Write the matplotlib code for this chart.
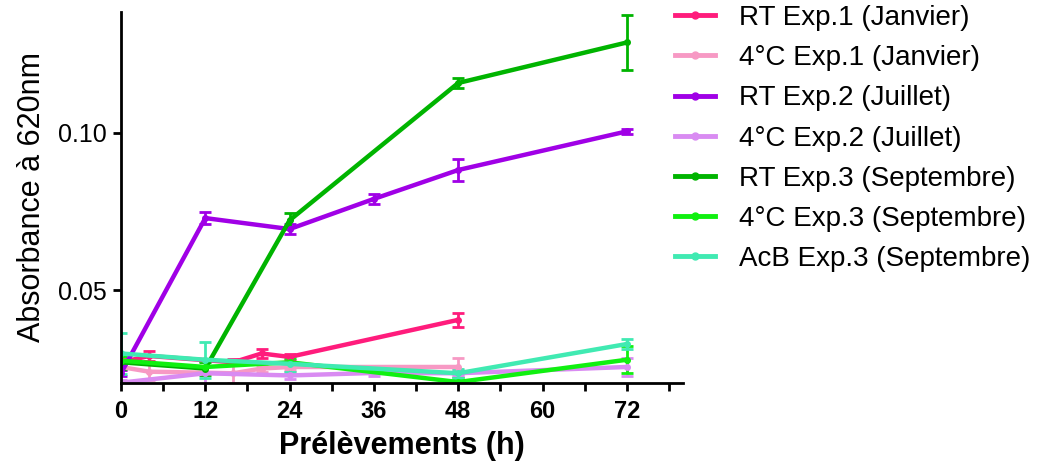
import numpy as np
import matplotlib
matplotlib.use("Agg")
import matplotlib.pyplot as plt
from matplotlib.ticker import MultipleLocator, FormatStrFormatter
from matplotlib.lines import Line2D

plt.rcParams['font.family'] = ['Liberation Sans', 'DejaVu Sans']

# Data
t_exp1 = [0, 4, 16, 20, 24, 48]
t_exp2 = [0, 12, 24, 36, 48, 72]
t_exp3 = [0, 12, 24, 48, 72]

rt_exp1 = [0.027, 0.029, 0.027, 0.0298, 0.0287, 0.0405]
rt_exp1_err = [0.001, 0.0015, 0.001, 0.0015, 0.001, 0.0022]
c4_exp1 = [0.0255, 0.024, 0.0235, 0.025, 0.0255, 0.0255]
c4_exp1_err = [0.001, 0.0025, 0.003, 0.001, 0.001, 0.003]

rt_exp2 = [0.0235, 0.0729, 0.0694, 0.079, 0.0882, 0.1005]
rt_exp2_err = [0.001, 0.0018, 0.0015, 0.0015, 0.0035, 0.0008]
c4_exp2 = [0.0205, 0.0235, 0.0228, 0.0236, 0.0235, 0.0255]
c4_exp2_err = [0.001, 0.004, 0.001, 0.001, 0.001, 0.003]

rt_exp3 = [0.027, 0.025, 0.0722, 0.1159, 0.1288]
rt_exp3_err = [0.002, 0.002, 0.0022, 0.0015, 0.0089]
c4_exp3 = [0.0275, 0.0255, 0.027, 0.0207, 0.0278]
c4_exp3_err = [0.0015, 0.002, 0.0015, 0.0012, 0.0043]
acb_exp3 = [0.0298, 0.0278, 0.0265, 0.0235, 0.0328]
acb_exp3_err = [0.0065, 0.0057, 0.0025, 0.0015, 0.0015]

series = [
    ("RT Exp.1 (Janvier)", t_exp1, rt_exp1, rt_exp1_err, '#FF1C7C'),
    ("4°C Exp.1 (Janvier)", t_exp1, c4_exp1, c4_exp1_err, '#F799C4'),
    ("RT Exp.2 (Juillet)", t_exp2, rt_exp2, rt_exp2_err, '#A000E6'),
    ("4°C Exp.2 (Juillet)", t_exp2, c4_exp2, c4_exp2_err, '#D98BF2'),
    ("RT Exp.3 (Septembre)", t_exp3, rt_exp3, rt_exp3_err, '#00B400'),
    ("4°C Exp.3 (Septembre)", t_exp3, c4_exp3, c4_exp3_err, '#10F010'),
    ("AcB Exp.3 (Septembre)", t_exp3, acb_exp3, acb_exp3_err, '#40EAB2'),
]

fig = plt.figure(figsize=(10.61, 4.71), dpi=100)
ax = fig.add_axes([121/1061, 1-383/471, (683-121)/1061, (383-12)/471])

handles = []
for label, t, y, err, col in series:
    ax.errorbar(t, y, yerr=err, color=col, lw=3.2, marker='o', ms=4,
                capsize=4, capthick=2, elinewidth=2)
    handles.append(Line2D([], [], color=col, lw=3.5, marker='o', ms=5, label=label))

ax.set_xlim(0, 80)
ax.set_ylim(0.0204, 0.1385)
ax.xaxis.set_major_locator(MultipleLocator(12))
ax.xaxis.set_minor_locator(MultipleLocator(6))
ax.set_yticks([0.05, 0.10])
ax.yaxis.set_major_formatter(FormatStrFormatter('%.2f'))

for s in ['top', 'right']:
    ax.spines[s].set_visible(False)
for s in ['left', 'bottom']:
    ax.spines[s].set_linewidth(2)
ax.tick_params(which='both', direction='out', width=2, length=6, colors='black')
ax.tick_params(axis='x', labelsize=17, pad=6)
ax.tick_params(axis='y', labelsize=18, pad=4)
for lbl in ax.get_xticklabels():
    lbl.set_fontweight('bold')
    lbl.set_family(['Liberation Sans Narrow', 'Liberation Sans'])

ax.set_xlabel("Prélèvements (h)", fontsize=22, fontweight='bold', labelpad=6)
ax.set_ylabel("Absorbance à 620nm", fontsize=22, labelpad=8)

leg = ax.legend(handles=handles, loc='upper left', bbox_to_anchor=(675/1061, 1-5/471),
                bbox_transform=fig.transFigure, frameon=False, fontsize=20,
                handlelength=1.45, handletextpad=0.85, labelspacing=0.51,
                borderaxespad=0, borderpad=0)

fig.savefig("out.png", dpi=100)
